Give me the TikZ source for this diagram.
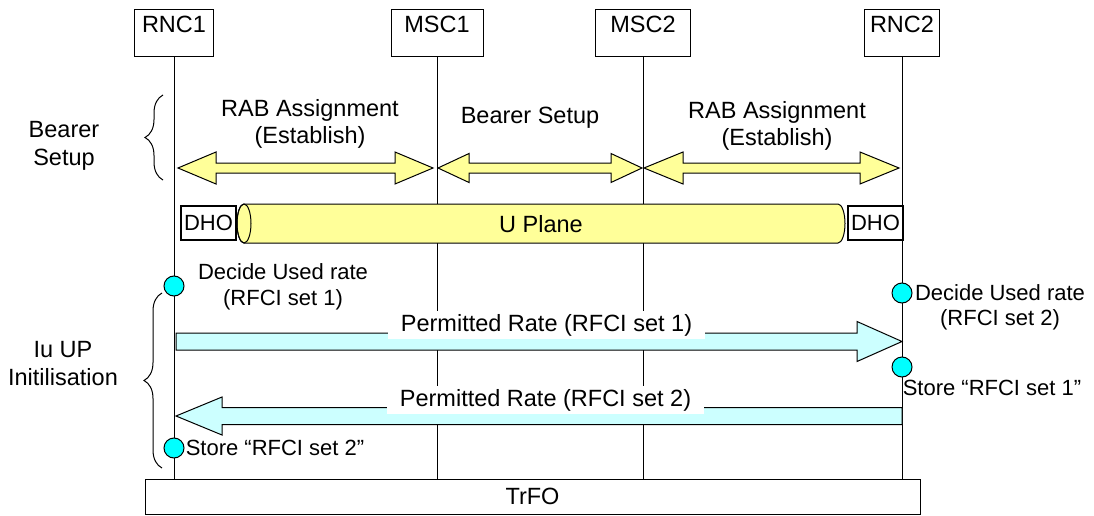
\documentclass[tikz,border=0pt]{standalone}
\usepackage{fontspec}
\setmainfont{Liberation Sans}
\usetikzlibrary{calc,decorations.pathreplacing}
\definecolor{uyellow}{RGB}{255,255,153}
\definecolor{ucyan}{RGB}{204,255,255}
\definecolor{dotcyan}{RGB}{0,255,255}
\newcommand{\smallfont}{\fontsize{22}{25.5}\selectfont}
\tikzstyle{hdr} = [rectangle, draw, fill=white, inner ysep=0pt, text height=23pt, text depth=24pt]
\tikzstyle{life} = [draw]
\tikzstyle{dho} = [rectangle, draw, line width=1.6pt, fill=white, inner sep=0pt, minimum width=55pt, minimum height=34pt, font=\smallfont]
\tikzstyle{evt} = [circle, draw, fill=dotcyan, inner sep=0pt, minimum size=20pt]
\tikzstyle{lbl} = [align=center]
\tikzstyle{note} = [align=center, font=\smallfont]
\tikzstyle{msg} = [fill=white, inner xsep=13pt, inner ysep=3pt]
\tikzstyle{brc} = [draw, decorate, decoration={brace, amplitude=18pt}]
\tikzset{
  dblarrow/.style 2 args={draw, fill=uyellow, to path={
    let \p1=(\tikztostart), \p2=(\tikztotarget) in
    -- (\x1+#1,\y1+#2) -- (\x1+#1,\y1+5pt) -- (\x2-#1,\y1+5pt)
    -- (\x2-#1,\y1+#2) -- (\p2) -- (\x2-#1,\y1-#2)
    -- (\x2-#1,\y1-5pt) -- (\x1+#1,\y1-5pt) -- (\x1+#1,\y1-#2) -- cycle}},
  sglarrow/.style 2 args={draw, fill=ucyan, to path={
    let \p1=(\tikztostart), \p2=(\tikztotarget),
        \p3=($(\tikztotarget)!#1!(\tikztostart)$) in
    -- (\x1,\y1+8.5pt) -- (\x3,\y1+8.5pt) -- (\x3,\y1+#2) -- (\p2)
    -- (\x3,\y1-#2) -- (\x3,\y1-8.5pt) -- (\x1,\y1-8.5pt) -- cycle}}
}

\begin{document}
\begin{tikzpicture}[x=1pt, y=-1pt, line width=1pt, font=\fontsize{23.5}{27.5}\selectfont]
			\useasboundingbox (0,0) rectangle (1094,516);
			% Place nodes
			\node [hdr, minimum width=79pt] (rnc1) at (174,33.5) {RNC1};
			\node [hdr, minimum width=92pt] (msc1) at (437,33.5) {MSC1};
			\node [hdr, minimum width=95pt] (msc2) at (643,33.5) {MSC2};
			\node [hdr, minimum width=75pt] (rnc2) at (902,33.5) {RNC2};
			\node [draw, minimum width=775pt, minimum height=35pt] (trfo) at (532.5,496.5) {TrFO};
			% Lifelines
			\foreach \n in {rnc1,msc1,msc2,rnc2}
				\path [life] (\n.south) -- (\n.south |- trfo.north);
			% Bearer setup
			\draw [dblarrow={38pt}{16pt}] ($(rnc1 |- 0,168)+(4,0)$) to ($(msc1 |- 0,168)+(-4,0)$);
			\draw [dblarrow={31pt}{14.5pt}] ($(msc1 |- 0,168)+(1,0)$) to ($(msc2 |- 0,168)+(-1,0)$);
			\draw [dblarrow={39pt}{16pt}] ($(msc2 |- 0,168)+(1,0)$) to ($(rnc2 |- 0,168)+(-3,0)$);
			\node [lbl] (rab1) at (310,124) {RAB Assignment\\(Establish)};
			\node (bs) at (530,118) {Bearer Setup};
			\node [lbl] (rab2) at (777,126) {RAB Assignment\\(Establish)};
			% U plane
			\path [draw, fill=uyellow] (244,204) -- (838,204)
				arc [start angle=90, end angle=-90, x radius=7pt, y radius=19.5pt] -- (244,243)
				arc [start angle=270, end angle=90, x radius=7pt, y radius=19.5pt] -- cycle;
			\draw (244,223.5) ellipse [x radius=7pt, y radius=19.5pt];
			\node (uplane) at (541,224) {U Plane};
			\node [dho] (dho1) at (208.5,223) {DHO};
			\node [dho] (dho2) at (875.5,223) {DHO};
			% Iu UP initialisation
			\draw [sglarrow={45pt}{20pt}] ($(rnc1 |- 0,341.5)+(2,0)$) to (rnc2 |- 0,341.5);
			\draw [sglarrow={46pt}{19pt}] (rnc2 |- 0,416) to ($(rnc1 |- 0,416)+(2,0)$);
			\node [msg] (pr1) at (546.5,325) {Permitted Rate (RFCI set 1)};
			\node [msg] (pr2) at (545.5,400) {Permitted Rate (RFCI set 2)};
			\node [evt] (dec1) at (rnc1 |- 0,286) {};
			\node [evt] (dec2) at (rnc2 |- 0,293) {};
			\node [evt] (sto1) at (rnc2 |- 0,367) {};
			\node [evt] (sto2) at (rnc1 |- 0,448) {};
			\node [note] (dec1txt) at (283,287) {Decide Used rate\\(RFCI set 1)};
			\node [note] (dec2txt) at (1000,307.5) {Decide Used rate\\(RFCI set 2)};
			\node [note] (sto1txt) at (992,388) {Store “RFCI set 1”};
			\node [note] (sto2txt) at (275,448) {Store “RFCI set 2”};
			% Braces
			\path [brc] (163,180) -- (163,95);
			\path [brc] (162,468) -- (162,293);
			\node [lbl] (bsetup) at (64,146) {Bearer\\Setup};
			\node [lbl] (iuup) at (63,363.5) {Iu UP\\Initilisation};
	\end{tikzpicture}
\end{document}
